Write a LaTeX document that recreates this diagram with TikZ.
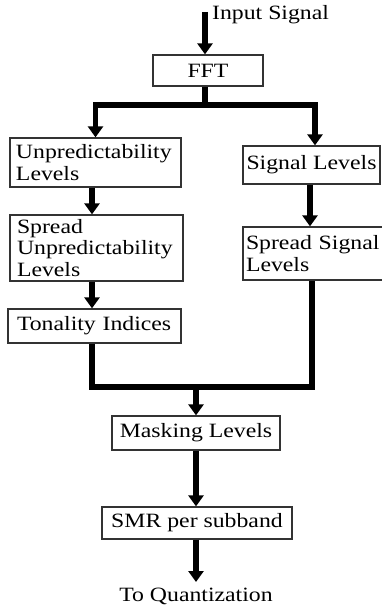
\documentclass[tikz,border=0pt]{standalone}
\usepackage{fontspec}
\setmainfont[FakeStretch=1.17]{Liberation Serif}
\usetikzlibrary{arrows.meta}
\definecolor{boxgray}{HTML}{333333}
\begin{document}
\begin{tikzpicture}[x=1pt,y=-1pt,
  font=\fontsize{20.3}{21.5}\selectfont,
  blk/.style={draw=boxgray, line width=1.3pt, rectangle, inner ysep=0pt, align=left},
  mid/.style={blk, align=center},
  wire/.style={line width=5.5pt, line join=miter, draw=black},
  flow/.style={wire, -{Triangle[width=15pt,length=11pt]}},
  lbl/.style={inner sep=0pt}]
\useasboundingbox (0,0) rectangle (382,607);

% processing blocks
\node[mid, minimum width=110, minimum height=31] (fft) at (208,70.5) {FFT};
\node[blk, minimum width=171, minimum height=49, text width=159, inner xsep=6pt] (unp) at (95.5,162.5) {Unpredictability\\Levels};
\node[mid, minimum width=137, minimum height=38] (sig) at (311.5,165) {Signal Levels};
\node[blk, minimum width=173, minimum height=66, text width=159, inner xsep=7pt] (sunp) at (96.5,248) {Spread\\Unpredictability\\Levels};
\node[blk, minimum width=140, minimum height=53, text width=134, inner xsep=3pt] (ssig) at (313,253.5) {Spread Signal\\Levels};
\node[blk, minimum width=173, minimum height=34, text width=155, inner xsep=9pt] (ton) at (94.5,326) {Tonality Indices};
\node[mid, minimum width=168, minimum height=34] (mask) at (196,433) {Masking Levels};
\node[mid, minimum width=190, minimum height=32] (smr) at (197,523) {SMR per subband};

% input and output labels
\node[lbl, anchor=west] (in) at (212,15) {Input Signal};
\node[lbl] (out) at (196,596) {To Quantization};

% junction points
\coordinate (src) at (205,12);
\coordinate (split) at (205,105);
\coordinate (merge) at (196,387);

% connectors
\draw[flow] (src) -- (src |- fft.north);
\draw[wire] (src |- fft.south) -- (split);
\draw[flow] (split) -| (unp.north);
\draw[flow] (split) -| ([xshift=3.5pt]sig.north);
\draw[flow] ([xshift=-3.5pt]unp.south) -- ([xshift=-3.5pt]unp.south |- sunp.north);
\draw[flow] ([xshift=-4.5pt]sunp.south) -- ([xshift=-4.5pt]sunp.south |- ton.north);
\draw[flow] ([xshift=-1.5pt]sig.south) -- ([xshift=-1.5pt]sig.south |- ssig.north);
\draw[wire] ([xshift=-2.5pt]ton.south) |- (merge) -| ([xshift=-1pt]ssig.south);
\draw[flow] (merge) -- (mask.north);
\draw[flow] (mask.south) -- (mask.south |- smr.north);
\draw[flow] (mask.south |- smr.south) -- (mask.south |- 0,582);
\end{tikzpicture}
\end{document}
